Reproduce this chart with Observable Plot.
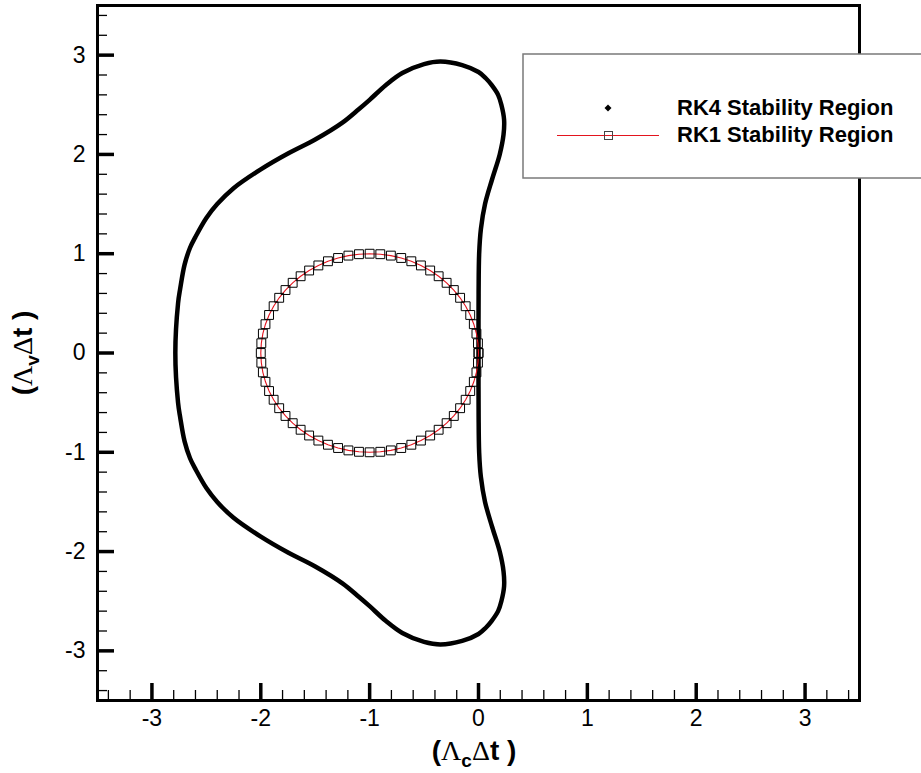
<!DOCTYPE html>
<html><head><meta charset="utf-8">
<script src="https://cdn.jsdelivr.net/npm/d3@7"></script>
<script src="https://cdn.jsdelivr.net/npm/@observablehq/plot@0.6"></script>
<style>
html,body{margin:0;padding:0;background:#fff;}
#chart{width:921px;height:773px;overflow:hidden;position:relative;}
</style></head><body><div id="chart"></div>
<script>
// RK4 stability boundary, upper half, from origin counter-clockwise
const rk4UpperX = [0, 0.001, 0.006, 0.022, 0.06, 0.125, 0.195, 0.23, 0.235, 0.21, 0.18, 0.12, 0.065, 0, -0.15, -0.35, -0.5, -0.7, -0.85, -1, -1.1, -1.25, -1.5, -1.75, -2, -2.25, -2.4, -2.5, -2.6, -2.65, -2.7, -2.74, -2.76, -2.785];
const rk4UpperY = [0, 0.6, 1.0, 1.25, 1.5, 1.75, 2.0, 2.2, 2.35, 2.5, 2.6, 2.7, 2.77, 2.83, 2.9, 2.936, 2.91, 2.82, 2.7, 2.55, 2.455, 2.32, 2.15, 2.01, 1.85, 1.66, 1.50, 1.36, 1.17, 1.06, 0.89, 0.65, 0.5, 0];
// lower half, from the left tip back to origin
const rk4LowerX = [-2.76, -2.74, -2.7, -2.65, -2.6, -2.5, -2.4, -2.25, -2, -1.75, -1.5, -1.25, -1.1, -1, -0.85, -0.7, -0.5, -0.35, -0.15, 0, 0.065, 0.12, 0.18, 0.21, 0.235, 0.23, 0.195, 0.125, 0.06, 0.022, 0.006, 0.001, 0];
const rk4LowerY = [-0.5, -0.65, -0.89, -1.06, -1.17, -1.36, -1.50, -1.66, -1.85, -2.01, -2.15, -2.32, -2.455, -2.55, -2.7, -2.82, -2.91, -2.936, -2.9, -2.83, -2.77, -2.7, -2.6, -2.5, -2.35, -2.2, -2.0, -1.75, -1.5, -1.25, -1.0, -0.6, 0];
// RK1 stability boundary points (markers)
const rk1X = [0,-0.005,-0.019,-0.043,-0.076,-0.118,-0.169,-0.227,-0.293,-0.366,-0.444,-0.529,-0.617,-0.710,-0.805,-0.902,-1,-1.098,-1.195,-1.290,-1.383,-1.471,-1.556,-1.634,-1.707,-1.773,-1.831,-1.882,-1.924,-1.957,-1.981,-1.995,-2,-1.995,-1.981,-1.957,-1.924,-1.882,-1.831,-1.773,-1.707,-1.634,-1.556,-1.471,-1.383,-1.290,-1.195,-1.098,-1,-0.902,-0.805,-0.710,-0.617,-0.529,-0.444,-0.366,-0.293,-0.227,-0.169,-0.118,-0.076,-0.043,-0.019,-0.005,0];
const rk1Y = [0,0.098,0.195,0.290,0.383,0.471,0.556,0.634,0.707,0.773,0.831,0.882,0.924,0.957,0.981,0.995,1,0.995,0.981,0.957,0.924,0.882,0.831,0.773,0.707,0.634,0.556,0.471,0.383,0.290,0.195,0.098,0,-0.098,-0.195,-0.290,-0.383,-0.471,-0.556,-0.634,-0.707,-0.773,-0.831,-0.882,-0.924,-0.957,-0.981,-0.995,-1,-0.995,-0.981,-0.957,-0.924,-0.882,-0.831,-0.773,-0.707,-0.634,-0.556,-0.471,-0.383,-0.290,-0.195,-0.098,0];
const majorTicks = [-3, -2, -1, 0, 1, 2, 3];
const minorTicks = [-3.4,-3.2,-2.8,-2.6,-2.4,-2.2,-1.8,-1.6,-1.4,-1.2,-0.8,-0.6,-0.4,-0.2,0.2,0.4,0.6,0.8,1.2,1.4,1.6,1.8,2.2,2.4,2.6,2.8,3.2,3.4];
const seriesNames = ["RK4 Stability Region", "RK1 Stability Region"];

const rk4 = rk4UpperX.map((x, i) => ({x, y: rk4UpperY[i]}))
  .concat(rk4LowerX.map((x, i) => ({x, y: rk4LowerY[i]})));
const rk1 = rk1X.map((x, i) => ({x, y: rk1Y[i]}));

const FONT = "'Liberation Sans', Arial, Helvetica, sans-serif";
const RED = "#e3141e";

const plot = Plot.plot({
  width: 921, height: 773,
  marginLeft: 97, marginRight: 62, marginTop: 5, marginBottom: 73,
  x: {domain: [-3.5, 3.5]},
  y: {domain: [-3.5, 3.5]},
  style: {fontFamily: FONT, background: "white", color: "black", overflow: "hidden"},
  marks: [
    Plot.line(rk4, {x: "x", y: "y", stroke: "black", strokeWidth: 4.5, curve: "catmull-rom"}),
    Plot.line(rk1, {x: "x", y: "y", stroke: RED, strokeWidth: 1.1}),
    Plot.dot(rk1, {x: "x", y: "y", symbol: "square", r: 5, stroke: "black", strokeWidth: 1, fill: "none"}),
    Plot.axisX({ticks: minorTicks, tickSize: -10, strokeWidth: 1.3, fill: "none", label: null}),
    Plot.axisX({ticks: majorTicks, tickSize: -17, strokeWidth: 3.5, fill: "none", label: null}),
    Plot.axisX({ticks: majorTicks, tickSize: 0, tickPadding: 9, fontSize: 23, tickFormat: d => String(d), label: null}),
    Plot.axisY({ticks: minorTicks, tickSize: -10, strokeWidth: 1.3, fill: "none", label: null}),
    Plot.axisY({ticks: majorTicks, tickSize: -17, strokeWidth: 3.5, fill: "none", label: null}),
    Plot.axisY({ticks: majorTicks, tickSize: 0, tickPadding: 12, fontSize: 23, tickFormat: d => String(d), label: null}),
    Plot.frame({stroke: "black", strokeWidth: 3})
  ]
});
document.getElementById("chart").appendChild(plot);

const svg = d3.select(plot);
const GREEK = "'Liberation Serif', 'DejaVu Serif', serif";

function addTitle(sel, sub) {
  sel.attr("font-family", FONT).attr("font-weight", "bold").attr("font-size", 28).attr("fill", "black").attr("text-anchor", "middle");
  sel.append("tspan").text("(");
  sel.append("tspan").attr("font-family", GREEK).attr("font-weight", "normal").text("Λ");
  sel.append("tspan").attr("font-size", 19).attr("dy", 7).text(sub);
  sel.append("tspan").attr("font-family", GREEK).attr("font-weight", "normal").attr("dy", -7).text("Δ");
  sel.append("tspan").text("t )");
}
addTitle(svg.append("text").attr("x", 474).attr("y", 760), "c");
addTitle(svg.append("text").attr("transform", "translate(32,353) rotate(-90)"), "v");

// legend
const lg = svg.append("g").attr("text-anchor", "start");
lg.append("rect").attr("x", 523).attr("y", 54).attr("width", 420).attr("height", 124)
  .attr("fill", "white").attr("stroke", "#7a7a7a").attr("stroke-width", 1.5);
lg.append("path").attr("d", "M608,104.5L611.5,108L608,111.5L604.5,108Z").attr("fill", "black");
lg.append("line").attr("x1", 557).attr("x2", 659).attr("y1", 135.5).attr("y2", 135.5).attr("stroke", RED).attr("stroke-width", 1);
lg.append("rect").attr("x", 604.5).attr("y", 131.5).attr("width", 8).attr("height", 8).attr("fill", "none").attr("stroke", "#444").attr("stroke-width", 1);
seriesNames.forEach((name, i) => {
  lg.append("text").attr("x", 677).attr("y", 115 + i * 27).attr("font-family", FONT).attr("text-anchor", "start")
    .attr("font-weight", "bold").attr("font-size", 22).attr("fill", "black").text(name);
});
</script></body></html>
